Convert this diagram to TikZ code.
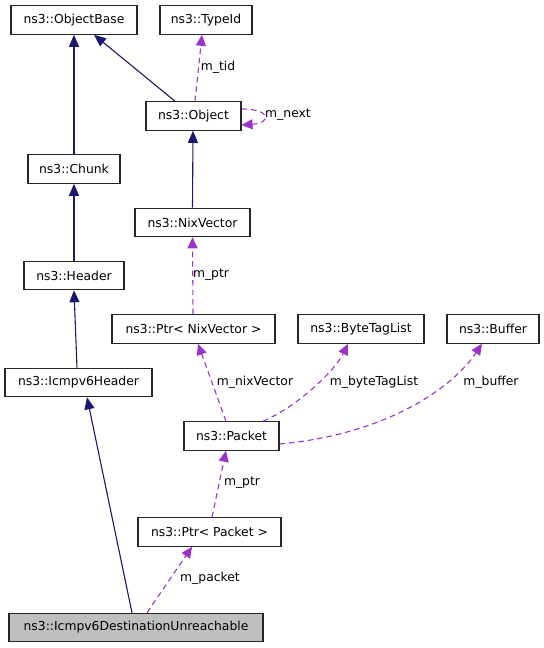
\documentclass[tikz,border=0pt]{standalone}
\usepackage{fontspec}
\setmainfont{DejaVu Sans}
\usetikzlibrary{arrows.meta}
\definecolor{edgeblue}{HTML}{191970}
\definecolor{edgepurple}{HTML}{9A32CD}
\definecolor{mainfill}{HTML}{BFBFBF}
\begin{document}
\begin{tikzpicture}[x=1bp,y=-1bp,
  box/.style={draw=black!85,line width=1.1bp,fill=white,inner sep=0pt,minimum height=28.5bp,font=\fontsize{12.4}{14}\selectfont},
  mainbox/.style={box,fill=mainfill},
  inherit/.style={draw=edgeblue,line width=1.1bp,-{Triangle[length=12bp,width=10bp]}},
  usage/.style={draw=edgepurple,line width=1.1bp,dash pattern=on 5.5bp off 4bp,-{Triangle[length=11bp,width=10bp]}},
  lbl/.style={inner sep=0pt,font=\fontsize{12.4}{14}\selectfont}]
\useasboundingbox[fill=white] (0,0) rectangle (544,648);
% nodes
\node[box,minimum width=126bp] (ob) at (74,20) {ns3::ObjectBase};
\node[box,minimum width=92bp] (tid) at (206,20) {ns3::TypeId};
\node[box,minimum width=95bp] (obj) at (193.5,116) {ns3::Object};
\node[box,minimum width=92bp] (chunk) at (74,169) {ns3::Chunk};
\node[box,minimum width=115bp] (nix) at (192.5,222.5) {ns3::NixVector};
\node[box,minimum width=100bp] (hdr) at (74,275.5) {ns3::Header};
\node[box,minimum width=163bp] (pnix) at (193.5,329) {ns3::Ptr< NixVector >};
\node[box,minimum width=126bp] (btl) at (361,329) {ns3::ByteTagList};
\node[box,minimum width=92bp] (buf) at (493,329) {ns3::Buffer};
\node[box,minimum width=147bp] (ih) at (78.5,382.5) {ns3::Icmpv6Header};
\node[box,minimum width=95bp] (pkt) at (231.5,436) {ns3::Packet};
\node[box,minimum width=143bp] (ppkt) at (209.5,532) {ns3::Ptr< Packet >};
\node[mainbox,minimum width=254bp] (du) at (136,627.5) {ns3::Icmpv6DestinationUnreachable};
% inheritance edges
\draw[inherit] (chunk.north) -- (ob.south);
\draw[inherit] ([xshift=-18.5bp]obj.north) -- ([xshift=20bp]ob.south);
\draw[inherit] (nix.north) -- ([xshift=-0.5bp]obj.south);
\draw[inherit] (hdr.north) -- (chunk.south);
\draw[inherit] ([xshift=-1.5bp]ih.north) -- (hdr.south);
\draw[inherit] ([xshift=-4bp]du.north) -- ([xshift=8.5bp]ih.south);
% usage edges
\draw[usage] ([xshift=1.5bp]obj.north) -- ([xshift=-4bp]tid.south);
\node[lbl] (ltid) at (218,67) {m\_tid};
\draw[usage] ([yshift=7bp]obj.east) .. controls +(30,0) and +(30,-2) .. ([yshift=-9bp]obj.east);
\node[lbl] (lnext) at (288,115) {m\_next};
\draw[usage] ([xshift=-0.5bp]pnix.north) -- (nix.south);
\node[lbl] (lptr1) at (211,275) {m\_ptr};
\draw[usage] ([xshift=-5.5bp]pkt.north) -- ([xshift=4.5bp]pnix.south);
\node[lbl] (lnixv) at (255,382) {m\_nixVector};
\draw[usage] ([xshift=31.5bp]pkt.north) .. controls +(37,-16) and +(-12,25) .. ([xshift=-13bp]btl.south);
\node[lbl] (lbtl) at (374,382) {m\_byteTagList};
\draw[usage] ([yshift=-8bp]pkt.east) .. controls +(110,-10) and +(-28,42) .. ([xshift=-11bp]buf.south);
\node[lbl] (lbuf) at (491,382) {m\_buffer};
\draw[usage] ([xshift=2.5bp]ppkt.north) -- ([xshift=-5.5bp]pkt.south);
\node[lbl] (lptr2) at (242,483) {m\_ptr};
\draw[usage] ([xshift=11bp]du.north) -- ([xshift=-17.5bp]ppkt.south);
\node[lbl] (lpacket) at (210,578) {m\_packet};
\end{tikzpicture}
\end{document}
